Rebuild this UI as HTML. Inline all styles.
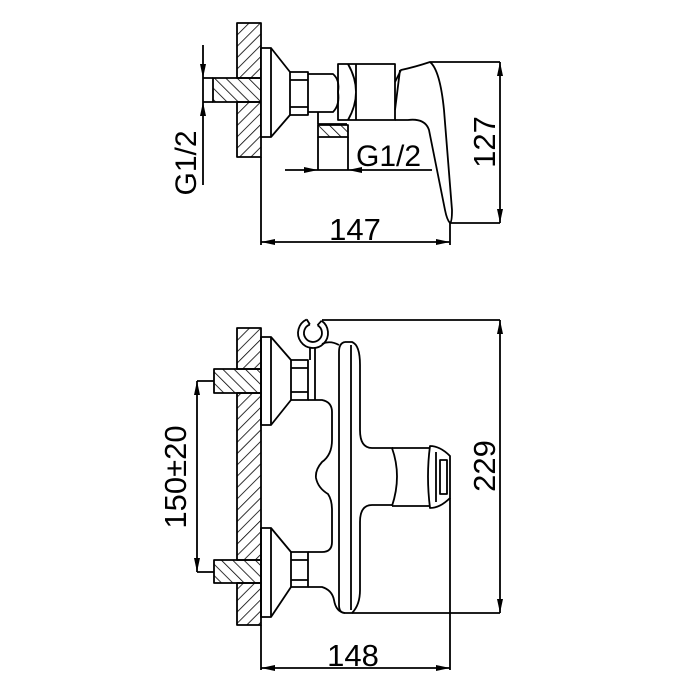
<!DOCTYPE html>
<html><head><meta charset="utf-8"><style>
html,body{margin:0;padding:0;background:#fff;}
svg{display:block;}
text{font-family:"Liberation Sans",sans-serif;fill:#000;}
</style></head><body>
<svg width="700" height="700" viewBox="0 0 700 700" xmlns="http://www.w3.org/2000/svg">
<defs>
<pattern id="h" patternUnits="userSpaceOnUse" width="8" height="8" patternTransform="rotate(45)">
<line x1="0" y1="0" x2="0" y2="8" stroke="#000" stroke-width="1.6"/>
</pattern>
<pattern id="h2" patternUnits="userSpaceOnUse" width="8" height="8" patternTransform="rotate(-45)">
<line x1="0" y1="0" x2="0" y2="8" stroke="#000" stroke-width="1.6"/>
</pattern>
</defs>
<g fill="none" stroke="#000" stroke-width="1.8" stroke-linejoin="round">
<!-- ===== TOP VIEW ===== -->
<rect x="237" y="23" width="24" height="55" fill="url(#h)"/>
<rect x="237" y="102" width="24" height="55" fill="url(#h)"/>
<rect x="213" y="78" width="48" height="24" fill="url(#h2)"/>
<rect x="261" y="48" width="10" height="89" fill="#fff"/>
<path d="M271 48 L290 72 M271 137 L290 115"/>
<rect x="290" y="72" width="18" height="43"/>
<path d="M290 80 H308 M290 107 H308"/>
<path d="M308 74 H333 Q340 80 338 92 Q340 105 333 112 H308"/>
<path d="M318 112 V124 H347"/>
<rect x="338" y="64" width="57" height="56"/>
<path d="M348 64 Q364 92 348 120 M356 64 V120"/>
<path d="M395 82 L401 70 Q415 67 430 62 H500"/>
<path d="M430 62 Q440 70 444 110 L452 210 Q452 222 450 223 H500"/>
<path d="M395 120 H408 Q425 118 429 130 L445 210 Q447 220 450 223"/>
<path d="M395 110 L400 70"/>
<rect x="318" y="125" width="30" height="12" fill="url(#h2)"/>
<path d="M318 137 V170 M348 137 V170"/>
<path d="M285 170 H432"/>
<path d="M203 45 V185 M203 78 H213 M203 102 H213"/>
<path d="M500 62 V223"/>
<path d="M261 157 V245 M450 223 V245 M261 242 H450"/>
<!-- ===== BOTTOM VIEW ===== -->
<rect x="237" y="328" width="24" height="41" fill="url(#h)"/>
<rect x="237" y="393" width="24" height="167" fill="url(#h)"/>
<rect x="237" y="583" width="24" height="42" fill="url(#h)"/>
<rect x="214" y="369" width="47" height="24" fill="url(#h2)"/>
<rect x="214" y="560" width="47" height="23" fill="url(#h2)"/>
<rect x="261" y="337" width="10" height="88"/>
<path d="M271 337 L291 360 M271 425 L291 400"/>
<rect x="291" y="360" width="17" height="40"/>
<path d="M291 368 H308 M291 392 H308"/>
<rect x="261" y="528" width="10" height="89"/>
<path d="M271 528 L291 552 M271 617 L291 587"/>
<rect x="291" y="552" width="17" height="35"/>
<path d="M291 560 H308 M291 580 H308"/>
<path d="M317.5 325.2 A9 9 0 1 1 309.9 324.5"/>
<path d="M321.6 320.7 A15 15 0 1 1 306.7 319.4"/>
<path d="M317.5 325.2 L321.6 320.7 M309.9 324.5 L306.7 319.4"/>
<path d="M310 347 V360 M315 347 V400"/>
<path d="M322 344 Q330 340 339 345"/>
<path d="M308 400 H322 Q332 402 332 412 V440 Q332 455 322 462 Q315 470 316 478 Q318 488 328 494 Q332 500 332 510 V542 Q332 552 322 552 H308"/>
<path d="M308 587 H322 Q332 590 334 600 Q336 612 345 613"/>
<path d="M345 342 Q339 343 339 352 V605 Q339 613 345 613 H352 Q360 605 360 590 V522 Q360 505 372 505 H393"/>
<path d="M393 448 H372 Q360 448 360 430 V365 Q360 345 352 342 H345"/>
<path d="M351 345 V610"/>
<path d="M392 448 Q402 476 392 506"/>
<path d="M392 448 H430 M392 506 H430"/>
<path d="M430 446 Q426 476 430 508 Q440 508 450 498 V456 Q440 446 430 446 Z"/>
<path d="M436 452 V502 M440 460 H447 V494 H440 Z"/>
<path d="M322 320 H500 M352 613 H500 M500 320 V613"/>
<path d="M450 498 V670 M261 625 V670 M261 668 H450"/>
<path d="M197 381 V572 M197 381 H214 M197 572 H214"/>
</g>
<g fill="#000">
<path d="M203 78 L200 64 L206 64 Z"/><path d="M203 102 L200 116 L206 116 Z"/>
<path d="M318 170 L304 167 L304 173 Z"/><path d="M348 170 L362 167 L362 173 Z"/>
<path d="M500 62 L497 76 L503 76 Z"/><path d="M500 223 L497 209 L503 209 Z"/>
<path d="M261 242 L275 239 L275 245 Z"/><path d="M450 242 L436 239 L436 245 Z"/>
<path d="M500 320 L497 334 L503 334 Z"/><path d="M500 613 L497 599 L503 599 Z"/>
<path d="M261 668 L275 665 L275 671 Z"/><path d="M450 668 L436 665 L436 671 Z"/>
<path d="M197 381 L194 395 L200 395 Z"/><path d="M197 572 L194 558 L200 558 Z"/>
</g>
<text x="356" y="166" font-size="30">G1/2</text>
<text x="355" y="240" font-size="31" text-anchor="middle">147</text>
<text x="353" y="666" font-size="31" text-anchor="middle">148</text>
<text transform="translate(196,163) rotate(-90)" font-size="30" text-anchor="middle">G1/2</text>
<text transform="translate(495,142) rotate(-90)" font-size="31" text-anchor="middle">127</text>
<text transform="translate(495,466) rotate(-90)" font-size="31" text-anchor="middle">229</text>
<text transform="translate(186,477) rotate(-90)" font-size="31" text-anchor="middle">150±20</text>
</svg>
</body></html>
